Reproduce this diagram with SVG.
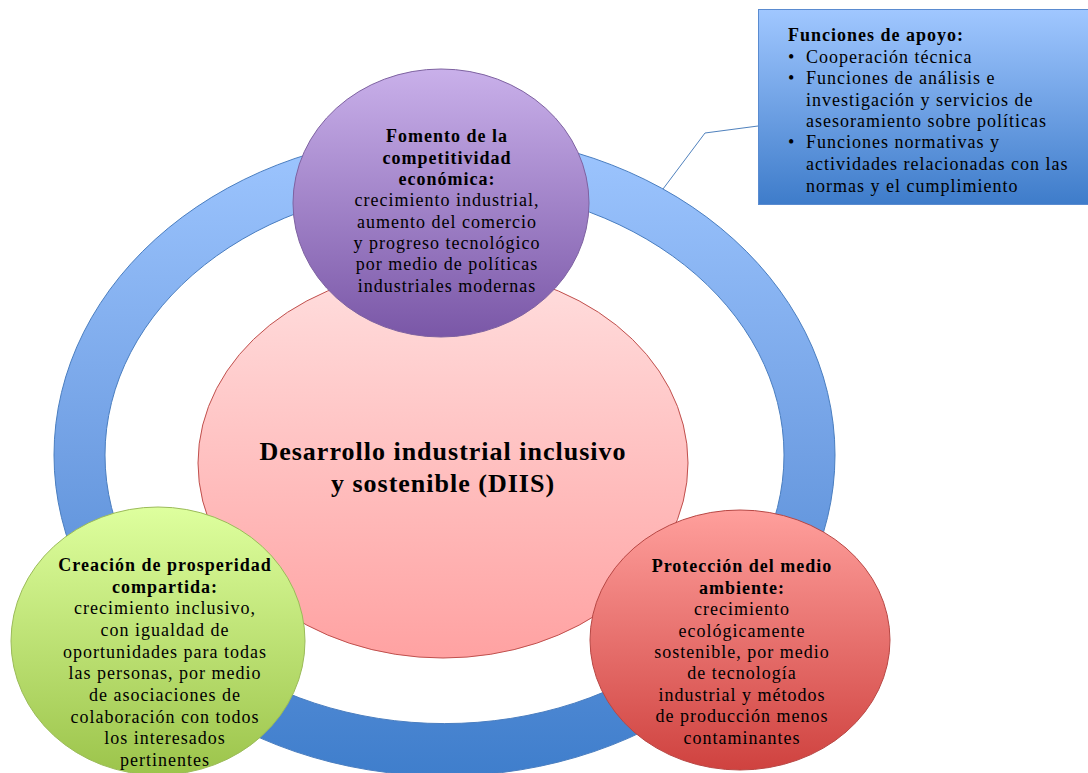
<svg xmlns="http://www.w3.org/2000/svg" width="1088" height="773" viewBox="0 0 1088 773">
<defs>
<linearGradient id="gRing" gradientUnits="userSpaceOnUse" x1="0" y1="134" x2="0" y2="776">
<stop offset="0" stop-color="#9EC6FF"/><stop offset="0.5" stop-color="#71A0E4"/><stop offset="1" stop-color="#3F7ECC"/>
</linearGradient>
<linearGradient id="gCenter" x1="0" y1="0" x2="0" y2="1">
<stop offset="0" stop-color="#FFDEDE"/><stop offset="1" stop-color="#FFA2A2"/>
</linearGradient>
<linearGradient id="gPurple" x1="0" y1="0" x2="0" y2="1">
<stop offset="0" stop-color="#C9B0EA"/><stop offset="1" stop-color="#7A57A7"/>
</linearGradient>
<linearGradient id="gGreen" x1="0" y1="0" x2="0" y2="1">
<stop offset="0" stop-color="#DEFF9E"/><stop offset="1" stop-color="#9CC44B"/>
</linearGradient>
<linearGradient id="gRed" x1="0" y1="0" x2="0" y2="1">
<stop offset="0" stop-color="#FF9F9C"/><stop offset="1" stop-color="#CF423F"/>
</linearGradient>
<linearGradient id="gBox" x1="0" y1="0" x2="0" y2="1">
<stop offset="0" stop-color="#A0C7FF"/><stop offset="1" stop-color="#3E7CCA"/>
</linearGradient>
</defs>
<style>
text{font-family:"Liberation Serif","Times New Roman",serif;font-size:18px;letter-spacing:1px;fill:#000}
.c{text-anchor:middle}
.b{font-weight:bold}
.big{font-size:26px;font-weight:bold}
</style>
<g id="ring">
<path d="M54,455 a390.5,321 0 1,0 781,0 a390.5,321 0 1,0 -781,0 Z M105,455 a339.5,268.5 0 1,0 679,0 a339.5,268.5 0 1,0 -679,0 Z" fill="url(#gRing)" fill-rule="evenodd" stroke="#4A7EC0" stroke-width="1"/>
</g>
<g id="center">
<ellipse cx="443" cy="463" rx="245" ry="195" fill="url(#gCenter)" stroke="#C0504D" stroke-width="1"/>
<text class="c big" x="443" y="460">Desarrollo industrial inclusivo</text>
<text class="c big" x="443" y="492">y sostenible (DIIS)</text>
</g>
<g id="connectors">
<polyline points="758,126 705,133 663,189" fill="none" stroke="#4F81BD" stroke-width="1"/>
</g>
<g id="fomento">
<ellipse cx="441" cy="203" rx="148" ry="134" fill="url(#gPurple)" stroke="#7E62A1" stroke-width="1"/>
<text class="c b" x="447" y="142">Fomento de la</text>
<text class="c b" x="447" y="164">competitividad</text>
<text class="c b" x="447" y="185">económica:</text>
<text class="c" x="447" y="206">crecimiento industrial,</text>
<text class="c" x="447" y="228">aumento del comercio</text>
<text class="c" x="447" y="249">y progreso tecnológico</text>
<text class="c" x="447" y="270">por medio de políticas</text>
<text class="c" x="447" y="292">industriales modernas</text>
</g>
<g id="prosperidad">
<ellipse cx="158" cy="641" rx="147" ry="134" fill="url(#gGreen)" stroke="#9BBB59" stroke-width="1"/>
<text class="c b" x="165" y="571">Creación de prosperidad</text>
<text class="c b" x="165" y="593">compartida:</text>
<text class="c" x="165" y="614">crecimiento inclusivo,</text>
<text class="c" x="165" y="636">con igualdad de</text>
<text class="c" x="165" y="658">oportunidades para todas</text>
<text class="c" x="165" y="679">las personas, por medio</text>
<text class="c" x="165" y="701">de asociaciones de</text>
<text class="c" x="165" y="723">colaboración con todos</text>
<text class="c" x="165" y="744">los interesados</text>
<text class="c" x="165" y="766">pertinentes</text>
</g>
<g id="medioambiente">
<ellipse cx="740" cy="640" rx="150" ry="130" fill="url(#gRed)" stroke="#B84744" stroke-width="1"/>
<text class="c b" x="742" y="572">Protección del medio</text>
<text class="c b" x="742" y="594">ambiente:</text>
<text class="c" x="742" y="615">crecimiento</text>
<text class="c" x="742" y="637">ecológicamente</text>
<text class="c" x="742" y="658">sostenible, por medio</text>
<text class="c" x="742" y="679">de tecnología</text>
<text class="c" x="742" y="701">industrial y métodos</text>
<text class="c" x="742" y="722">de producción menos</text>
<text class="c" x="742" y="744">contaminantes</text>
</g>
<g id="apoyo">
<rect x="758.5" y="9.5" width="340" height="195" fill="url(#gBox)" stroke="#5A8BD0" stroke-width="1"/>
<text class="b" x="788" y="41">Funciones de apoyo:</text>
<text x="788" y="63">•</text><text x="806" y="63">Cooperación técnica</text>
<text x="788" y="84">•</text><text x="806" y="84">Funciones de análisis e</text>
<text x="806" y="106">investigación y servicios de</text>
<text x="806" y="127">asesoramiento sobre políticas</text>
<text x="788" y="148">•</text><text x="806" y="148">Funciones normativas y</text>
<text x="806" y="170">actividades relacionadas con las</text>
<text x="806" y="192">normas y el cumplimiento</text>
</g>
</svg>
